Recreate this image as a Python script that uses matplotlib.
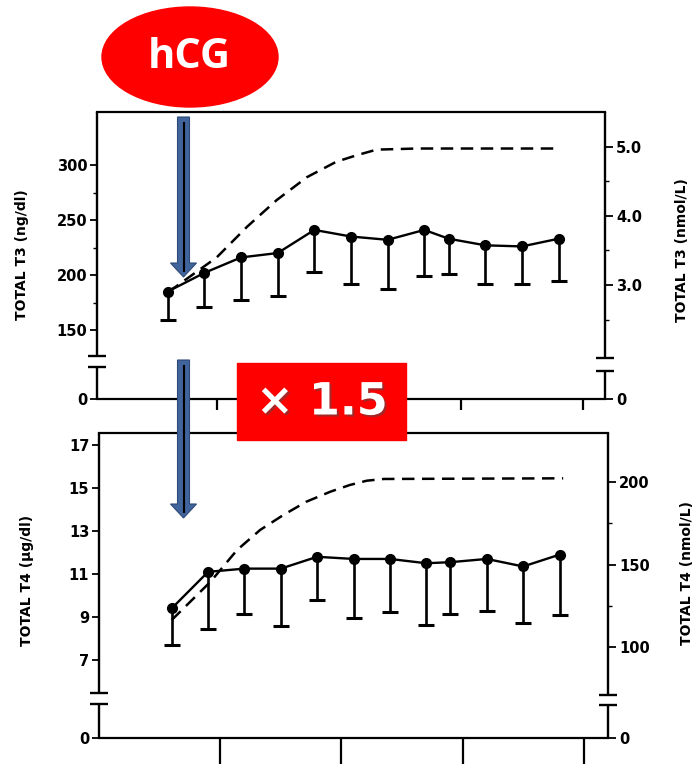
import numpy as np
import matplotlib
matplotlib.use('Agg')
import matplotlib.pyplot as plt
from matplotlib.patches import Ellipse, Rectangle, FancyArrow
import matplotlib.patheffects as pe

# Datos (días respecto a hCG)
dias = [-4, -1, 2, 5, 8, 11, 14, 17, 19, 22, 25, 28]
t3_media = [185, 202, 216, 220, 241, 235, 232, 241, 233, 227, 226, 233]
t3_inferior = [159, 171, 177, 181, 203, 192, 187, 199, 201, 192, 192, 195]
t4_media = [9.4, 11.1, 11.25, 11.25, 11.8, 11.7, 11.7, 11.5, 11.55, 11.7, 11.35, 11.9]
t4_inferior = [7.7, 8.45, 9.15, 8.6, 9.8, 8.95, 9.25, 8.65, 9.15, 9.3, 8.7, 9.1]

# Curvas discontinuas
t3_curva_x = [-4, -3.4, 0, 2.5, 4.9, 7.4, 9.8, 11.5, 13.1, 16.4, 28]
t3_curva_y = [185, 189, 216, 244, 268, 289, 303, 309, 314, 315, 315]
t4_curva_x = [-4, -0.8, 1.4, 3.3, 5.2, 7.1, 9.1, 10.7, 12.1, 13.5, 28.3]
t4_curva_y = [8.86, 10.64, 12.12, 13.05, 13.74, 14.36, 14.83, 15.14, 15.34, 15.42, 15.45]

x_ticks = [0, 10, 20, 30]
t3_ticks = [150, 200, 250, 300]
t3_menores = [175, 225, 275]
t3_nmol_ticks = [3.0, 4.0, 5.0]
t3_nmol_menores = [2.5, 3.5, 4.5]
t4_ticks = [7, 9, 11, 13, 15, 17]
t4_nmol_ticks = [100, 150, 200]
t4_nmol_menores = [125, 175]

W, H = 697, 767
fig = plt.figure(figsize=(W / 100, H / 100), dpi=100)
fuente = dict(family='DejaVu Sans', fontweight='bold', fontsize=10.5)


def panel(pos, xlim, ylim, ylim2, media, inferior, cx, cy,
          yt, ymin, y2t, y2min, fmt2, brk_l, brk_r, xtick_len):
    ax = fig.add_axes(pos)
    ax2 = ax.twinx()
    ax.set_xlim(*xlim)
    ax.set_ylim(*ylim)
    ax2.set_ylim(*ylim2)
    for s in ax.spines.values():
        s.set_linewidth(1.6)
    ax.spines['left'].set_visible(False)
    ax.spines['right'].set_visible(False)
    for s in ax2.spines.values():
        s.set_visible(False)

    # datos
    err = np.array(media) - np.array(inferior)
    ax.errorbar(dias, media, yerr=[err, np.zeros_like(err)], fmt='none',
                ecolor='black', elinewidth=1.9, capsize=0)
    ax.plot(dias, inferior, ls='none', marker='_', markersize=11, mew=2.2, color='black')
    ax.plot(dias, media, '-o', color='black', lw=1.7, markersize=7)
    ax.plot(cx, cy, color='black', lw=1.8, ls=(0, (5, 3)))

    # ejes
    ax.set_xticks(x_ticks)
    ax.set_xticklabels([])
    ax.tick_params(axis='x', direction='out', length=xtick_len, width=1.6)
    ax.set_yticks([ylim[0]] + yt)
    ax.set_yticklabels(['0'] + [str(v) for v in yt], **fuente)
    ax.set_yticks(ymin, minor=True)
    ax.tick_params(axis='y', which='major', direction='out', length=5, width=1.3, pad=2)
    ax.tick_params(axis='y', which='minor', direction='out', length=3, width=1.0)
    ax2.set_yticks([ylim2[0]] + y2t)
    ax2.set_yticklabels(['0'] + [fmt2.format(v) for v in y2t], **fuente)
    ax2.set_yticks(y2min, minor=True)
    ax2.tick_params(axis='y', which='major', direction='out', length=6, width=1.3, pad=2)
    ax2.tick_params(axis='y', which='minor', direction='out', length=3, width=1.0)

    # ejes verticales con corte
    kw = dict(transform=ax.transAxes, color='black', lw=1.7, clip_on=False,
              solid_capstyle='butt')
    bw = 0.018
    for xs, (a, b) in ((0, brk_l), (1, brk_r)):
        ax.plot([xs, xs], [1, a], **kw)
        ax.plot([xs, xs], [b, 0], **kw)
        ax.plot([xs - bw, xs + bw], [a, a], **kw)
        ax.plot([xs - bw, xs + bw], [b, b], **kw)
    return ax


panel([97 / W, 1 - 399 / H, 508 / W, 287 / H], (-9.8, 31.8), (87.3, 348.2),
      (1.348, 5.507), t3_media, t3_inferior, t3_curva_x, t3_curva_y,
      t3_ticks, t3_menores, t3_nmol_ticks, t3_nmol_menores, '{:.1f}',
      (0.150, 0.112), (0.143, 0.098), 8)
panel([99 / W, 1 - 738 / H, 509 / W, 305 / H], (-10, 32), (3.372, 17.558),
      (44.85, 229.7), t4_media, t4_inferior, t4_curva_x, t4_curva_y,
      t4_ticks, [], t4_nmol_ticks, t4_nmol_menores, '{:d}',
      (0.1475, 0.1115), (0.141, 0.108), 19)

etq = dict(family='DejaVu Sans', fontweight='bold', fontsize=10, rotation=90,
           ha='center', va='center')
fig.text(22 / W, 1 - 255 / H, 'TOTAL T3 (ng/dl)', **etq)
fig.text(682 / W, 1 - 250 / H, 'TOTAL T3 (nmol/L)', **etq)
fig.text(27 / W, 1 - 580 / H, 'TOTAL T4 (\u03bcg/dl)', **etq)
fig.text(687 / W, 1 - 573 / H, 'TOTAL T4 (nmol/L)', **etq)

# anotaciones
ov = fig.add_axes([0, 0, 1, 1], zorder=10)
ov.set_xlim(0, W)
ov.set_ylim(H, 0)
ov.axis('off')
ov.add_patch(Ellipse((190, 57), 176, 100, color='#FF0000'))
ov.text(189, 57, 'hCG', color='white', fontsize=30, fontweight='bold',
        family='Open Sans', ha='center', va='center')
ov.add_patch(Rectangle((237, 363), 169, 77, color='#FF0000'))
ov.text(322, 402, '\u00d7 1.5', color='white', fontsize=32, fontweight='bold',
        family='DejaVu Sans', ha='center', va='center',
        path_effects=[pe.withSimplePatchShadow(offset=(1.5, -1.5), alpha=0.5)])
for y0, y1 in ((117, 277), (360, 518)):
    ov.add_patch(FancyArrow(183.5, y0, 0, y1 - y0, width=12, head_width=26,
                            head_length=14, length_includes_head=True,
                            facecolor='#41649C', edgecolor='#2E4A78', lw=0.8))
    ov.plot([183.5, 183.5], [y0 + 6, y1 - 6], color='black', lw=1.5)

fig.savefig('out.png', dpi=100)
